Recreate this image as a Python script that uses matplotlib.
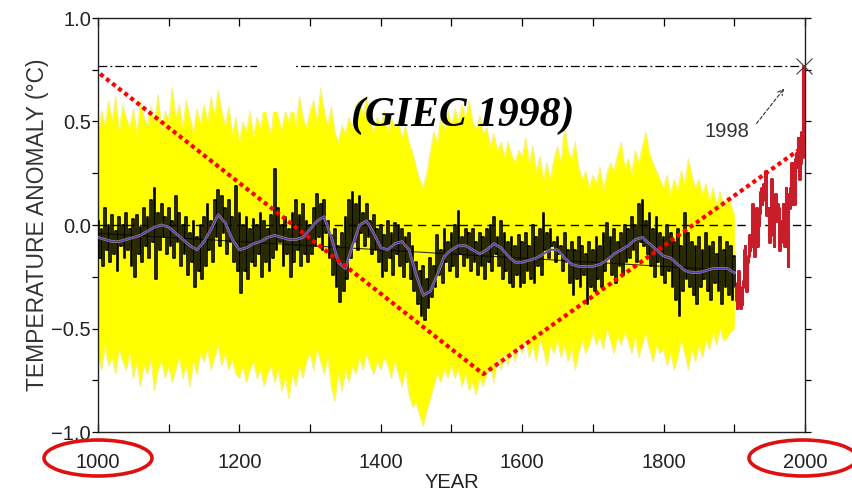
import numpy as np
import matplotlib.pyplot as plt
from matplotlib.patches import Ellipse, Rectangle

# 5-year grid for the reconstruction (1000-1900)
years5 = np.arange(1000, 1905, 5)

# yellow uncertainty band, upper / lower edge
band_upper = [
    0.42, 0.55, 0.48, 0.60, 0.50, 0.62, 0.45, 0.58, 0.52, 0.47,
    0.56, 0.44, 0.60, 0.52, 0.48, 0.57, 0.50, 0.63, 0.46, 0.55,
    0.50, 0.66, 0.52, 0.58, 0.47, 0.60, 0.52, 0.45, 0.56, 0.49,
    0.58, 0.50, 0.62, 0.53, 0.65, 0.55, 0.48, 0.57, 0.44, 0.52,
    0.40, 0.50, 0.45, 0.55, 0.43, 0.52, 0.47, 0.58, 0.50, 0.44,
    0.60, 0.52, 0.46, 0.55, 0.50, 0.58, 0.48, 0.62, 0.52, 0.47,
    0.55, 0.60, 0.50, 0.66, 0.55, 0.48, 0.57, 0.45, 0.40, 0.48,
    0.44, 0.52, 0.47, 0.58, 0.60, 0.53, 0.62, 0.50, 0.45, 0.52,
    0.48, 0.55, 0.45, 0.52, 0.47, 0.50, 0.42, 0.48, 0.40, 0.35,
    0.28, 0.22, 0.18, 0.25, 0.35, 0.45, 0.40, 0.52, 0.46, 0.55,
    0.48, 0.56, 0.50, 0.58, 0.52, 0.60, 0.50, 0.46, 0.53, 0.44,
    0.47, 0.38, 0.44, 0.36, 0.40, 0.33, 0.40, 0.34, 0.30, 0.36,
    0.33, 0.42, 0.30, 0.38, 0.26, 0.33, 0.22, 0.30, 0.22, 0.32,
    0.38, 0.30, 0.48, 0.36, 0.32, 0.40, 0.28, 0.22, 0.26, 0.18,
    0.24, 0.20, 0.28, 0.17, 0.25, 0.30, 0.26, 0.34, 0.40, 0.28,
    0.32, 0.25, 0.36, 0.30, 0.38, 0.45, 0.35, 0.30, 0.26, 0.22,
    0.18, 0.24, 0.15, 0.22, 0.17, 0.26, 0.20, 0.32, 0.24, 0.18,
    0.22, 0.15, 0.20, 0.12, 0.18, 0.10, 0.16, 0.08, 0.14, 0.10,
    0.05,
]
band_lower = [
    -0.62, -0.70, -0.58, -0.68, -0.64, -0.72, -0.60, -0.66, -0.70, -0.62,
    -0.74, -0.66, -0.78, -0.68, -0.72, -0.65, -0.80, -0.70, -0.66, -0.74,
    -0.68, -0.76, -0.70, -0.64, -0.74, -0.68, -0.78, -0.66, -0.72, -0.62,
    -0.66, -0.60, -0.70, -0.64, -0.58, -0.68, -0.62, -0.70, -0.65, -0.72,
    -0.74, -0.68, -0.76, -0.70, -0.66, -0.74, -0.70, -0.78, -0.72, -0.68,
    -0.76, -0.70, -0.80, -0.74, -0.84, -0.72, -0.78, -0.68, -0.74, -0.66,
    -0.62, -0.70, -0.60, -0.66, -0.72, -0.64, -0.78, -0.85, -0.72, -0.80,
    -0.70, -0.76, -0.68, -0.72, -0.64, -0.70, -0.62, -0.68, -0.72, -0.66,
    -0.70, -0.64, -0.68, -0.74, -0.66, -0.72, -0.78, -0.70, -0.82, -0.88,
    -0.86, -0.92, -0.97, -0.90, -0.84, -0.78, -0.72, -0.76, -0.70, -0.74,
    -0.68, -0.74, -0.70, -0.78, -0.72, -0.80, -0.76, -0.82, -0.74, -0.78,
    -0.72, -0.68, -0.76, -0.64, -0.70, -0.62, -0.68, -0.60, -0.66, -0.58,
    -0.62, -0.55, -0.64, -0.58, -0.66, -0.56, -0.60, -0.68, -0.58, -0.62,
    -0.56, -0.64, -0.58, -0.66, -0.60, -0.70, -0.62, -0.56, -0.62, -0.58,
    -0.52, -0.58, -0.54, -0.60, -0.50, -0.56, -0.62, -0.54, -0.58, -0.52,
    -0.56, -0.62, -0.54, -0.64, -0.58, -0.52, -0.60, -0.66, -0.58, -0.62,
    -0.60, -0.68, -0.62, -0.70, -0.64, -0.56, -0.62, -0.70, -0.60, -0.66,
    -0.58, -0.64, -0.56, -0.60, -0.52, -0.58, -0.50, -0.56, -0.54, -0.52,
    -0.50,
]

# black reconstruction: high and low reading within each 5-year step
recon_hi = [
    0.02, -0.02, 0.08, 0.00, 0.05, -0.03, 0.04, 0.00, 0.06, -0.02,
    0.03, 0.05, -0.01, 0.08, 0.04, 0.12, 0.18, 0.06, 0.10, 0.04,
    0.08, 0.02, 0.14, 0.06, 0.00, 0.04, -0.04, 0.02, -0.06, 0.00,
    0.04, 0.10, 0.02, 0.12, 0.17, 0.14, 0.08, 0.12, 0.04, 0.19,
    0.06, 0.00, 0.04, -0.02, 0.03, 0.00, 0.06, 0.02, -0.02, 0.05,
    0.27, 0.08, 0.00, 0.04, -0.02, 0.06, 0.12, 0.05, 0.10, 0.02,
    0.00, 0.08, 0.15, 0.10, 0.12, 0.02, -0.05, -0.02, -0.10, -0.04,
    0.04, 0.12, 0.16, 0.10, 0.14, 0.06, 0.10, 0.02, 0.05, -0.02,
    0.00, -0.05, 0.02, -0.04, 0.01, 0.00, -0.02, -0.06, -0.04, -0.10,
    -0.18, -0.22, -0.20, -0.26, -0.16, -0.20, -0.05, -0.12, -0.02, -0.08,
    -0.04, 0.00, 0.07, -0.06, -0.02, -0.04, -0.02, -0.08, -0.04, -0.06,
    -0.02, 0.00, 0.04, -0.06, 0.02, -0.04, -0.08, -0.06, -0.10, -0.05,
    -0.08, -0.04, -0.10, 0.00, -0.06, -0.02, 0.06, -0.04, -0.02, -0.08,
    -0.06, -0.10, -0.04, -0.12, -0.08, -0.12, -0.06, -0.10, -0.14, -0.08,
    -0.12, -0.06, -0.10, -0.04, 0.01, -0.06, -0.02, -0.08, -0.04, 0.00,
    -0.02, 0.04, 0.00, 0.10, 0.12, 0.02, 0.06, -0.02, 0.04, -0.04,
    -0.06, 0.00, -0.04, -0.08, -0.02, -0.10, 0.06, -0.04, -0.08, -0.10,
    -0.06, -0.12, -0.04, -0.10, -0.08, -0.14, -0.06, -0.12, -0.08, -0.10,
    -0.15,
]
recon_lo = [
    -0.16, -0.20, -0.12, -0.18, -0.14, -0.22, -0.10, -0.16, -0.12, -0.20,
    -0.25, -0.14, -0.18, -0.10, -0.16, -0.08, -0.26, -0.12, -0.06, -0.14,
    -0.10, -0.16, -0.08, -0.20, -0.14, -0.24, -0.18, -0.30, -0.22, -0.26,
    -0.20, -0.12, -0.18, -0.06, -0.10, -0.04, -0.14, -0.08, -0.18, -0.22,
    -0.33, -0.22, -0.26, -0.18, -0.20, -0.14, -0.25, -0.18, -0.22, -0.16,
    -0.12, -0.08, -0.20, -0.14, -0.25, -0.18, -0.12, -0.20, -0.14, -0.18,
    -0.14, -0.10, -0.06, -0.12, -0.04, -0.16, -0.24, -0.30, -0.37, -0.32,
    -0.26, -0.16, -0.08, -0.12, -0.04, -0.10, -0.06, -0.14, -0.12, -0.18,
    -0.25, -0.22, -0.16, -0.24, -0.14, -0.20, -0.25, -0.18, -0.26, -0.32,
    -0.38, -0.44, -0.46, -0.40, -0.35, -0.30, -0.24, -0.28, -0.18, -0.22,
    -0.20, -0.25, -0.14, -0.20, -0.16, -0.22, -0.18, -0.24, -0.20, -0.26,
    -0.18, -0.22, -0.14, -0.20, -0.26, -0.22, -0.28, -0.30, -0.24, -0.30,
    -0.28, -0.22, -0.26, -0.28, -0.20, -0.24, -0.12, -0.16, -0.10, -0.18,
    -0.14, -0.22, -0.18, -0.28, -0.34, -0.26, -0.30, -0.24, -0.38, -0.30,
    -0.32, -0.26, -0.30, -0.22, -0.16, -0.24, -0.28, -0.20, -0.24, -0.18,
    -0.16, -0.12, -0.18, -0.08, -0.10, -0.14, -0.20, -0.25, -0.18, -0.24,
    -0.28, -0.22, -0.30, -0.36, -0.44, -0.32, -0.26, -0.30, -0.34, -0.38,
    -0.30, -0.26, -0.32, -0.36, -0.28, -0.32, -0.38, -0.30, -0.34, -0.36,
    -0.30,
]

# smoothed (purple) curve, every 10 years
smooth_years = np.arange(1000, 1910, 10)
smooth_vals = [
    -0.06, -0.07, -0.08, -0.08, -0.07, -0.06, -0.05, -0.03, -0.01, 0.00,
    -0.01, -0.04, -0.07, -0.10, -0.12, -0.08, -0.02, 0.05, 0.01, -0.07,
    -0.12, -0.11, -0.09, -0.08, -0.06, -0.05, -0.06, -0.07, -0.07, -0.06,
    -0.02, 0.02, 0.04, -0.06, -0.18, -0.21, -0.10, 0.00, 0.02, -0.04,
    -0.11, -0.12, -0.09, -0.08, -0.12, -0.24, -0.34, -0.32, -0.24, -0.15,
    -0.12, -0.10, -0.10, -0.12, -0.14, -0.12, -0.09, -0.11, -0.15, -0.18,
    -0.18, -0.17, -0.16, -0.14, -0.12, -0.12, -0.16, -0.19, -0.20, -0.20,
    -0.20, -0.19, -0.17, -0.14, -0.12, -0.10, -0.07, -0.06, -0.09, -0.12,
    -0.15, -0.16, -0.19, -0.22, -0.23, -0.23, -0.22, -0.21, -0.21, -0.21,
    -0.23,
]

# instrumental record (red), annual
instr_years = np.arange(1902, 1999)
instr_vals = [
    -0.30, -0.36, -0.40, -0.28, -0.22, -0.38, -0.35, -0.40, -0.33,
    -0.38, -0.30, -0.27, -0.12, -0.10, -0.28, -0.32, -0.20, -0.18, -0.15,
    -0.05, -0.12, -0.08, -0.10, 0.02, 0.10, 0.00, -0.02, -0.15, 0.05,
    0.08, 0.02, -0.10, 0.05, 0.00, 0.06, 0.16, 0.18, 0.10, 0.12,
    0.20, 0.14, 0.16, 0.26, 0.18, 0.05, 0.08, 0.06, 0.02, -0.08,
    0.08, 0.12, 0.22, -0.02, -0.05, -0.10, 0.10, 0.15, 0.08, 0.02,
    0.10, 0.05, 0.08, -0.12, -0.08, 0.00, 0.02, -0.05, 0.10, 0.05,
    -0.10, 0.02, 0.18, -0.10, -0.05, -0.20, 0.15, 0.08, 0.18, 0.25,
    0.30, 0.10, 0.30, 0.12, 0.10, 0.18, 0.32, 0.35, 0.28, 0.42,
    0.40, 0.22, 0.25, 0.30, 0.45, 0.33, 0.55, 0.77,
]

# linear trend of the reconstruction
trend_years = [1000, 1900]
trend_vals = [-0.04, -0.22]

# red dotted "V" overlay
v_years = [1003, 1545, 1990]
v_vals = [0.73, -0.72, 0.36]

peak_year, peak_val = 1998, 0.77

# interleave hi/lo readings into one jagged series
recon_x = np.column_stack([years5, years5 + 2.5]).ravel()
recon_y = np.column_stack([recon_hi, recon_lo]).ravel()

W, H = 853, 494
fig = plt.figure(figsize=(W / 100, H / 100), dpi=100)
ax = fig.add_axes([98 / W, 1 - 432 / H, 707 / W, 414 / H])

sans = ['Liberation Sans', 'DejaVu Sans']

ax.fill_between(years5, band_lower, band_upper, color='#ffff00', lw=0, zorder=1)
ax.plot(years5, band_upper, color='#f6f27a', lw=0.8, zorder=1)
ax.plot(years5, band_lower, color='#f6f27a', lw=0.8, zorder=1)

ax.axhline(0, color='black', lw=1.0, ls=(0, (6, 4)), zorder=2)
ax.axhline(peak_val, color='black', lw=0.9, ls=(0, (7, 2.5, 1.5, 2.5)), zorder=2)

ax.plot(trend_years, trend_vals, color='#303030', lw=0.8, zorder=3)
ax.plot(recon_x, recon_y, color='black', lw=1.2, drawstyle='steps-mid', zorder=3)
ax.plot(instr_years, instr_vals, color='#c81e2c', lw=2.2, drawstyle='steps-mid', zorder=3)
ax.plot(smooth_years, smooth_vals, color='#b8a8d8', lw=2.0, alpha=0.7, zorder=4)
ax.plot(smooth_years, smooth_vals, color='#5a3ca8', lw=1.0, zorder=4)

ax.plot(v_years, v_vals, color='#ff0000', lw=3.0, ls=(0, (1.0, 0.85)),
        dash_capstyle='butt', zorder=6)

# white patch over the dash-dot line
ax.add_patch(Rectangle((1225, 0.546), 54, 0.338, fc='white', ec='none', zorder=5))

ax.plot(peak_year, peak_val, marker='x', ms=11, mew=0.8, color='#404040',
        clip_on=False, zorder=7)
ax.annotate('', xy=(1973, 0.67), xytext=(1929, 0.48),
            arrowprops=dict(arrowstyle='->', color='#303030', lw=0.8, ls=(0, (3, 2))),
            zorder=7)
ax.text(1890, 0.45, '1998', ha='center', va='center', fontsize=14.5,
        family=sans, color='#333333', zorder=7)

ax.text(1516, 0.53, '(GIEC 1998)', ha='center', va='center', fontsize=30,
        family='Liberation Serif', style='italic', weight='bold', color='black', zorder=7)

ax.set_xlim(1000, 2000)
ax.set_ylim(-1.0, 1.0)
ax.set_xticks(np.arange(1000, 2001, 200))
ax.set_xticks(np.arange(1100, 2000, 200), minor=True)
ax.set_yticks([-1.0, -0.5, 0.0, 0.5, 1.0])
ax.set_yticks([-0.75, -0.25, 0.25, 0.75], minor=True)
ax.set_yticklabels(['\u22121.0', '\u22120.5', '0.0', '0.5', '1.0'])

ax.tick_params(axis='x', which='both', direction='in', top=True, length=6, width=0.9,
               pad=15, labelsize=14.5, labelcolor='#222222')
ax.tick_params(axis='y', which='both', direction='out', right=True, length=4, width=0.9,
               pad=1, labelsize=14.5, labelcolor='#222222')
for lab in ax.get_xticklabels() + ax.get_yticklabels():
    lab.set_family(sans)

for s in ax.spines.values():
    s.set_linewidth(1.0)
    s.set_color('#202020')

ax.set_xlabel('YEAR', fontsize=14.5, family=sans, color='#222222', labelpad=1)
ax.set_ylabel('TEMPERATURE ANOMALY (\u00b0C)', fontsize=16.5, family=sans,
              color='#333333', labelpad=2)

# red circles round the first and last year labels
for cx in (98, 803):
    fig.patches.append(Ellipse((cx / W, 1 - 458 / H), 108 / W, 36 / H,
                               transform=fig.transFigure, fill=False,
                               ec='#e01010', lw=2.6, zorder=10))

fig.savefig('out.png', dpi=100)
